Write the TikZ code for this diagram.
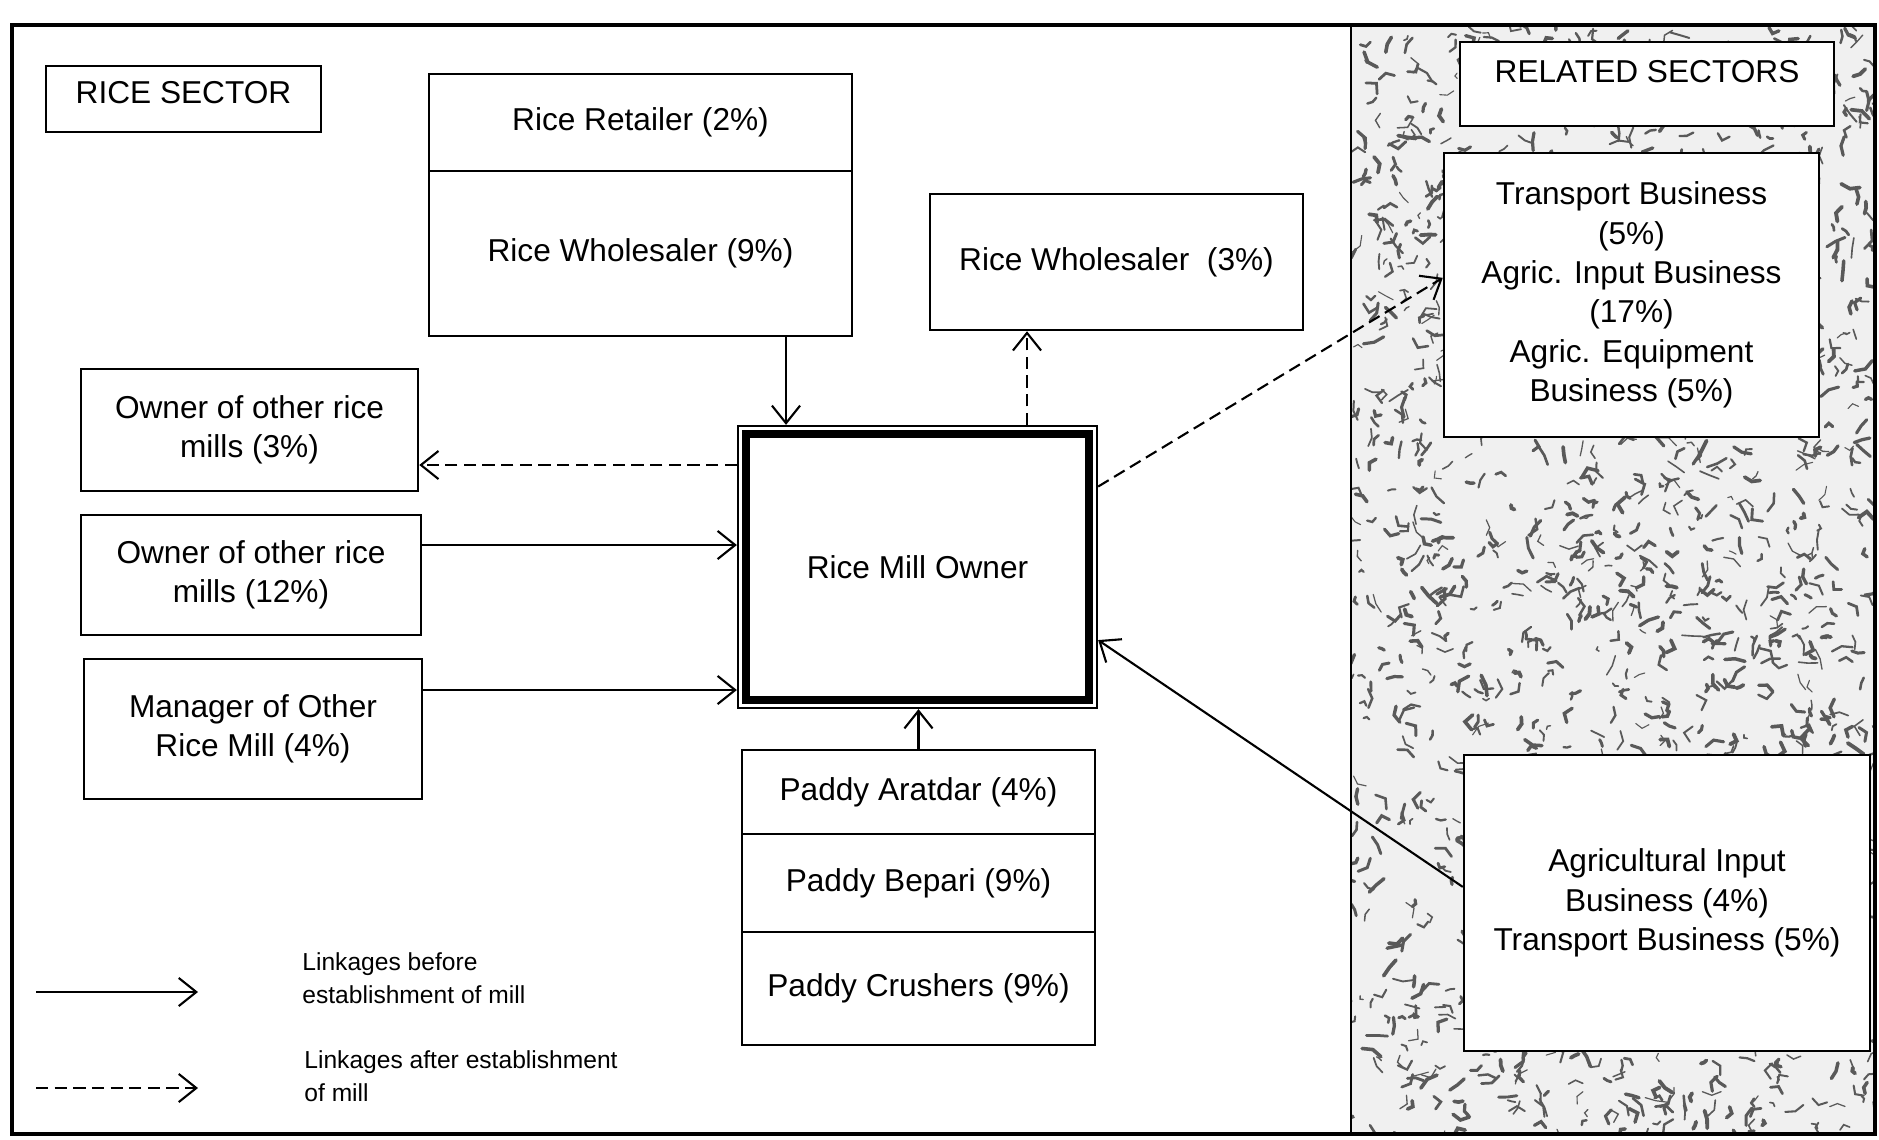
\documentclass[tikz,border=0pt]{standalone}
\usepackage{fontspec}
\setmainfont{Liberation Sans}
\usetikzlibrary{arrows.meta,fit,calc}

\begin{document}
\begin{tikzpicture}[y=-1cm,font=\fontsize{9}{11.2}\selectfont,
  box/.style={draw,line width=0.7pt,fill=white,align=center,inner sep=2pt},
  link/.style={-{Straight Barb[length=5pt,width=8pt]},line width=0.6pt},
  linkafter/.style={link,dash pattern=on 3.5pt off 1.8pt}]
\useasboundingbox (0,0) rectangle (18.79,11.39);
\fill[white] (0,0) rectangle (18.79,11.39);
\fill[black!6] (13.51,0.25) rectangle (18.75,11.34);
\begin{scope}
\clip (13.51,0.25) rectangle (18.75,11.34);
\pgfmathsetseed{17}
\foreach \k in {1,...,1600}{
  \pgfmathsetmacro\px{13.5+5.3*rnd}
  \pgfmathsetmacro\py{0.2+11.2*rnd}
  \pgfmathsetmacro\pa{360*rnd}
  \pgfmathsetmacro\pb{\pa+90*rand}
  \pgfmathsetmacro\pl{0.03+0.08*rnd}
  \pgfmathsetmacro\pw{0.3+0.8*rnd}
  \draw[black!65,line width=\pw pt,line cap=round] (\px,\py) -- ++(\pa:\pl) -- ++(\pb:\pl);
}
\end{scope}
\draw[line width=1pt] (0.12,0.25) rectangle (18.75,11.34);
\draw[line width=0.8pt] (13.51,0.25) -- (13.51,11.34);
\node[box,minimum width=2.75cm,minimum height=0.66cm,text depth=4pt] (rice) at (1.835,0.99) {RICE SECTOR};
\node[box,minimum width=4.23cm,minimum height=0.97cm] (ret) at (6.405,1.225) {Rice Retailer (2\%)};
\node[box,minimum width=4.23cm,minimum height=1.65cm] (ws9) at (6.405,2.535) {Rice Wholesaler (9\%)};
\node[box,minimum width=3.73cm,minimum height=1.36cm] (ws3) at (11.165,2.62) {Rice Wholesaler\ \ (3\%)};
\node[box,minimum width=3.37cm,minimum height=1.22cm] (own3) at (2.495,4.30) {Owner of other rice\\mills (3\%)};
\node[box,minimum width=3.40cm,minimum height=1.20cm] (own12) at (2.51,5.75) {Owner of other rice\\mills (12\%)};
\node[box,minimum width=3.38cm,minimum height=1.40cm] (mgr) at (2.53,7.29) {Manager of Other\\Rice Mill (4\%)};
\node[box,line width=2.2pt,minimum width=3.43cm,minimum height=2.66cm] (mill) at (9.175,5.67) {Rice Mill Owner};
\node[draw,line width=0.6pt,fit=(mill),inner sep=1.2pt] (millframe) {};
\node[box,minimum width=3.53cm,minimum height=0.84cm] (arat) at (9.185,7.92) {Paddy Aratdar (4\%)};
\node[box,minimum width=3.53cm,minimum height=0.98cm] (bep) at (9.185,8.83) {Paddy Bepari (9\%)};
\node[box,minimum width=3.53cm,minimum height=1.13cm] (crush) at (9.185,9.885) {Paddy Crushers (9\%)};
\node[box,minimum width=3.74cm,minimum height=0.84cm,text depth=7pt] (rel) at (16.47,0.84) {RELATED SECTORS};
\node[box,minimum width=3.75cm,minimum height=2.84cm] (tra) at (16.315,2.95) {Transport Business\\(5\%)\\Agric. Input Business\\(17\%)\\Agric. Equipment\\Business (5\%)};
\node[box,minimum width=4.06cm,minimum height=2.96cm] (agr) at (16.67,9.03) {Agricultural Input\\Business (4\%)\\Transport Business (5\%)};
\coordinate (c1) at (7.86,0);
\draw[link] (ws9.south -| c1) -- (millframe.north -| c1);
\coordinate (c2) at (10.27,0);
\draw[linkafter] (millframe.north -| c2) -- (ws3.south -| c2);
\coordinate (c3) at (0,4.65);
\draw[linkafter] (millframe.west |- c3) -- (own3.east |- c3);
\coordinate (c4) at (0,5.45);
\draw[link] (own12.east |- c4) -- (millframe.west |- c4);
\coordinate (c5) at (0,6.90);
\draw[link] (mgr.east |- c5) -- (millframe.west |- c5);
\draw[link] (arat.north) -- (arat.north |- millframe.south);
\draw[linkafter] ($(millframe.north east)!0.217!(millframe.south east)$) -- ($(tra.north west)!0.44!(tra.south west)$);
\draw[link] ($(agr.north west)!0.446!(agr.south west)$) -- ($(millframe.north east)!0.757!(millframe.south east)$);
\coordinate (ba) at (0.36,9.92);
\coordinate (bb) at (1.98,9.92);
\draw[link] (ba) -- (bb);
\node[anchor=west,align=left,font=\fontsize{7}{9.5}\selectfont] (lbefore) at (2.90,9.78) {Linkages before\\establishment of mill};
\coordinate (aa) at (0.36,10.88);
\coordinate (ab) at (1.98,10.88);
\draw[linkafter] (aa) -- (ab);
\node[anchor=west,align=left,font=\fontsize{7}{9.5}\selectfont] (lafter) at (2.92,10.76) {Linkages after establishment\\of mill};
\end{tikzpicture}
\end{document}
